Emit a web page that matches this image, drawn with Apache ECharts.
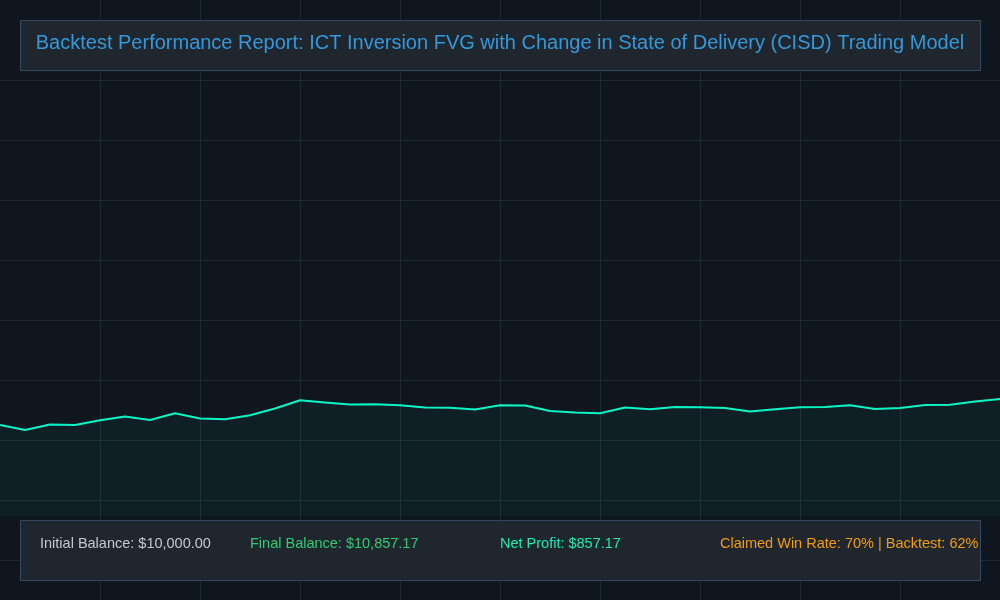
<!DOCTYPE html>
<html>
<head>
<meta charset="utf-8">
<title>Backtest Performance Report</title>
<script src="https://cdn.jsdelivr.net/npm/echarts@6/dist/echarts.min.js"></script>
<style>
  html, body { margin: 0; padding: 0; background: #0f161d; }
  #main { width: 1000px; height: 600px; }
</style>
</head>
<body>
<div id="main"></div>
<script>
// trade index along the equity curve
var trades = ['0', '1', '2', '3', '4', '5', '6', '7', '8', '9', '10',
  '11', '12', '13', '14', '15', '16', '17', '18', '19', '20',
  '21', '22', '23', '24', '25', '26', '27', '28', '29', '30',
  '31', '32', '33', '34', '35', '36', '37', '38', '39', '40'];

// account balance after each trade
var balance = [10000, 9835, 10013, 9995, 10155, 10277, 10165, 10385, 10211, 10188,
  10320, 10540, 10814, 10738, 10672, 10685, 10649, 10573, 10565, 10507,
  10649, 10639, 10461, 10409, 10385, 10573, 10517, 10593, 10583, 10560,
  10441, 10517, 10583, 10590, 10649, 10527, 10560, 10659, 10665, 10771,
  10857.17];

var titleText = 'Backtest Performance Report: ICT Inversion FVG with Change in State of Delivery (CISD) Trading Model';
var statLabels = [
  'Initial Balance: $10,000.00',
  'Final Balance: $10,857.17',
  'Net Profit: $857.17',
  'Claimed Win Rate: 70% | Backtest: 62%'
];

var chart = echarts.init(document.getElementById('main'), null, { renderer: 'canvas' });

var gridLine = { show: true, lineStyle: { color: '#1d2a32', width: 1 } };
var statColors = ['#c3c9cf', '#2ecc71', '#1de9b6', '#f39c12'];
var statX = [40, 250, 500, 720];

chart.setOption({
  backgroundColor: '#0f161d',
  animation: false,
  grid: [
    // main equity grid
    { left: 0, right: 0, top: 0, bottom: 84 },
    // background vertical lines
    { left: 100, right: 100, top: 0, bottom: 0 },
    // background horizontal lines
    { left: 0, right: 0, top: 80, bottom: 40 }
  ],
  xAxis: [
    {
      type: 'category', gridIndex: 0, data: trades, boundaryGap: false,
      axisLine: { show: false }, axisTick: { show: false }, axisLabel: { show: false },
      splitLine: { show: false }
    },
    {
      type: 'value', gridIndex: 1, min: 0, max: 8, interval: 1,
      axisLine: { show: false }, axisTick: { show: false }, axisLabel: { show: false },
      splitLine: gridLine
    },
    {
      type: 'value', gridIndex: 2, min: 0, max: 1,
      show: false
    }
  ],
  yAxis: [
    {
      type: 'value', gridIndex: 0, min: 7000, max: 24000,
      axisLine: { show: false }, axisTick: { show: false }, axisLabel: { show: false },
      splitLine: { show: false }
    },
    {
      type: 'value', gridIndex: 1, min: 0, max: 1,
      show: false
    },
    {
      type: 'value', gridIndex: 2, min: 0, max: 8, interval: 1,
      axisLine: { show: false }, axisTick: { show: false }, axisLabel: { show: false },
      splitLine: gridLine
    }
  ],
  series: [
    {
      name: 'Balance',
      type: 'line',
      xAxisIndex: 0,
      yAxisIndex: 0,
      data: balance,
      symbol: 'none',
      smooth: false,
      lineStyle: { color: '#0af5c6', width: 2 },
      areaStyle: { color: 'rgba(0, 230, 190, 0.07)' },
      z: 3
    }
  ],
  graphic: [
    {
      type: 'rect',
      shape: { x: 20.5, y: 20.5, width: 960, height: 50 },
      style: { fill: '#1f262e', stroke: '#354a60', lineWidth: 1 },
      z: 10
    },
    {
      type: 'text',
      x: 500, y: 43,
      style: {
        text: titleText,
        fill: '#3498db',
        font: '20px "Liberation Sans", Arial, sans-serif',
        textAlign: 'center',
        textVerticalAlign: 'middle'
      },
      z: 11
    },
    {
      type: 'rect',
      shape: { x: 20.5, y: 520.5, width: 960, height: 60 },
      style: { fill: '#1f262e', stroke: '#354a60', lineWidth: 1 },
      z: 10
    }
  ].concat(statLabels.map(function (t, i) {
    return {
      type: 'text',
      x: statX[i], y: 544,
      style: {
        text: t,
        fill: statColors[i],
        font: '14.5px "Liberation Sans", Arial, sans-serif',
        textAlign: 'left',
        textVerticalAlign: 'middle'
      },
      z: 11
    };
  }))
});
</script>
</body>
</html>
